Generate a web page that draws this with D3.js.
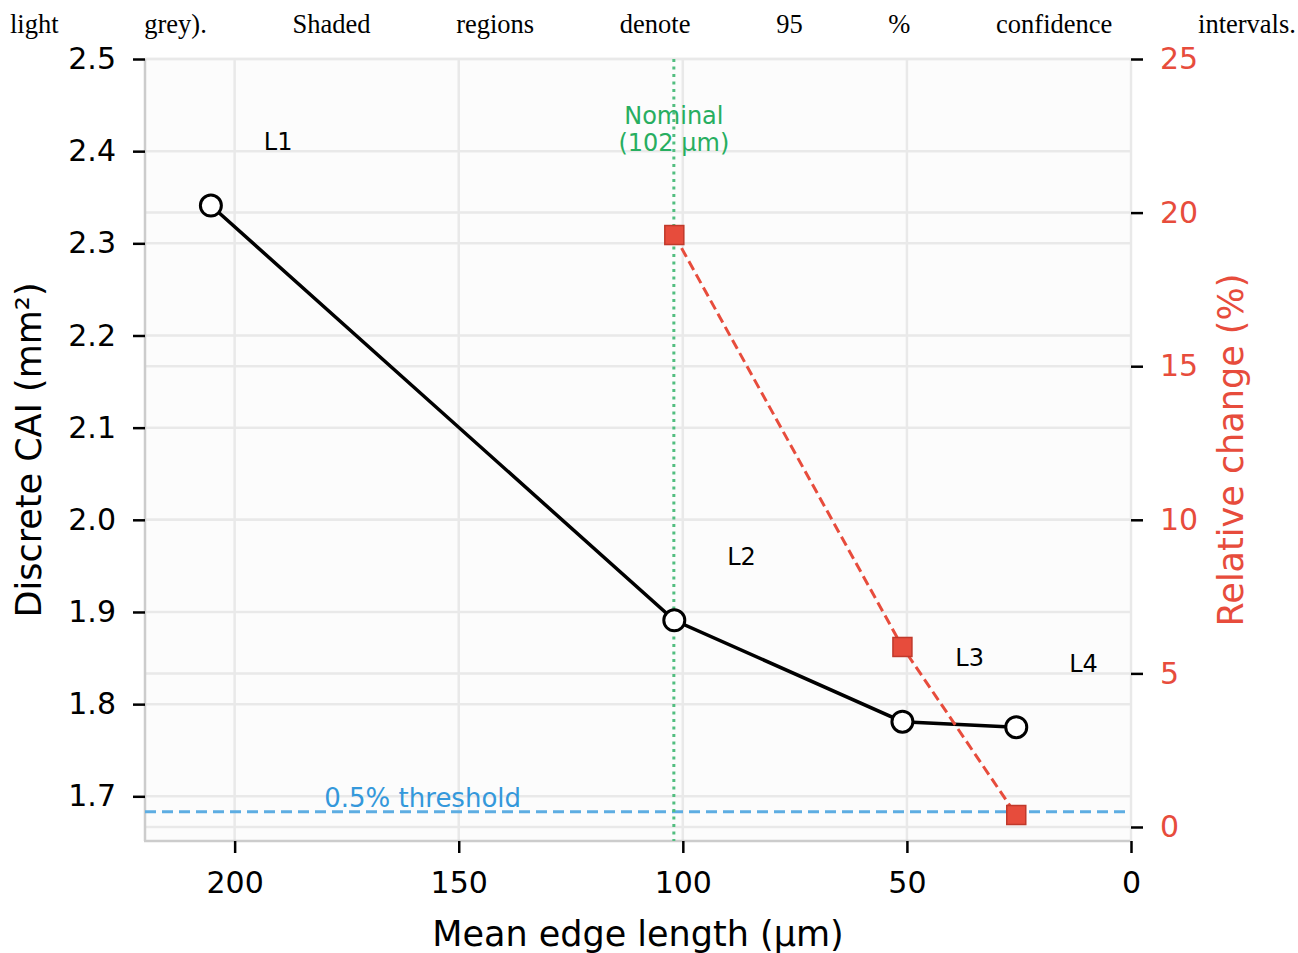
<!DOCTYPE html>
<html>
<head>
<meta charset="utf-8">
<script src="https://cdn.jsdelivr.net/npm/d3@7"></script>
<style>
  body { margin: 0; background: #fff; }
  #caption {
    position: absolute; left: 10px; top: 9px; width: 1286px;
    display: flex; justify-content: space-between;
    font-family: "Liberation Serif", "Times New Roman", serif; font-size: 26.5px; color: #000;
  }
  svg { position: absolute; left: 0; top: 0; }
</style>
</head>
<body>
<div id="vis-div"></div>
<div id="caption"></div>
<script>
// caption words shown above the chart
var captionWords = ["light", "grey).", "Shaded", "regions", "denote", "95", "%", "confidence", "intervals."];

// mesh levels
var levels = ["L1", "L2", "L3", "L4"];
var edgeLength = [205.3, 101.9, 51.0, 25.6];          // µm
var cai = [2.341, 1.891, 1.781, 1.775];               // mm²

// relative change between successive levels
var relEdge = [101.9, 51.0, 25.6];
var relChange = [19.27, 5.86, 0.39];                  // %

var nominalEdge = 102;
var thresholdPct = 0.5;

var xTicks = [200, 150, 100, 50, 0];
var yTicks = [1.7, 1.8, 1.9, 2.0, 2.1, 2.2, 2.3, 2.4, 2.5];
var rTicks = [0, 5, 10, 15, 20, 25];

d3.select("#caption").selectAll("span").data(captionWords).enter()
    .append("span").text(d => d);

var width = 1298, height = 953;
var pLeft = 145, pRight = 1131, pTop = 59, pBottom = 841;
var font = "DejaVu Sans, sans-serif";
var red = "#e74c3c", green = "#27ae60", blue = "#3498db";

var svg = d3.select("#vis-div").append("svg").attr("width", width).attr("height", height);

var x = d3.scaleLinear().domain([220, 0]).range([pLeft, pRight]);
var y = d3.scaleLinear().domain([1.6515, 2.5]).range([pBottom, pTop]);
var y2 = d3.scaleLinear().domain([-0.456, 25]).range([pBottom, pTop]);

// plot background
svg.append("rect")
    .attr("x", pLeft).attr("y", pTop)
    .attr("width", pRight - pLeft).attr("height", pBottom - pTop)
    .attr("fill", "#fcfcfc");

// grid
var grid = svg.append("g").attr("stroke", "#e9e9e9").attr("stroke-width", 2.5);
grid.selectAll(".gx").data(xTicks).enter().append("line")
    .attr("x1", d => x(d)).attr("x2", d => x(d)).attr("y1", pTop).attr("y2", pBottom);
grid.selectAll(".gy").data(yTicks).enter().append("line")
    .attr("x1", pLeft).attr("x2", pRight).attr("y1", d => y(d)).attr("y2", d => y(d));
grid.selectAll(".gr").data(rTicks).enter().append("line")
    .attr("x1", pLeft).attr("x2", pRight).attr("y1", d => y2(d)).attr("y2", d => y2(d));

// spines
svg.append("line").attr("x1", pLeft).attr("x2", pLeft).attr("y1", pTop).attr("y2", pBottom)
    .attr("stroke", "#cccccc").attr("stroke-width", 2.5);
svg.append("line").attr("x1", pLeft - 1).attr("x2", pRight + 1).attr("y1", pBottom).attr("y2", pBottom)
    .attr("stroke", "#cccccc").attr("stroke-width", 2.5);
svg.append("line").attr("x1", pRight).attr("x2", pRight).attr("y1", pTop).attr("y2", pBottom)
    .attr("stroke", "#e9e9e9").attr("stroke-width", 2);

// axes
var styleAxis = (g, color) => {
    g.select(".domain").remove();
    g.selectAll(".tick line").attr("stroke", "#000").attr("stroke-width", 2.5);
    g.selectAll(".tick text").attr("font-family", font).attr("font-size", 30).attr("fill", color);
};

svg.append("g").attr("transform", `translate(${pLeft},0)`)
    .call(d3.axisLeft(y).tickValues(yTicks).tickFormat(d3.format(".1f")).tickSize(12).tickPadding(17))
    .call(g => styleAxis(g, "#000"));

svg.append("g").attr("transform", `translate(${pRight},0)`)
    .call(d3.axisRight(y2).tickValues(rTicks).tickFormat(d3.format("d")).tickSize(12).tickPadding(17))
    .call(g => styleAxis(g, red));

svg.append("g").attr("transform", `translate(0,${pBottom})`)
    .call(d3.axisBottom(x).tickValues(xTicks).tickFormat(d3.format("d")).tickSize(12).tickPadding(19))
    .call(g => styleAxis(g, "#000"));

// axis titles
svg.append("text")
    .attr("transform", `translate(41,${(pTop + pBottom) / 2}) rotate(-90)`)
    .attr("text-anchor", "middle").attr("font-family", font).attr("font-size", 35)
    .text("Discrete CAI (mm²)");
svg.append("text")
    .attr("transform", `translate(1243,${(pTop + pBottom) / 2}) rotate(-90)`)
    .attr("text-anchor", "middle").attr("font-family", font).attr("font-size", 35)
    .attr("fill", red)
    .text("Relative change (%)");
svg.append("text")
    .attr("x", (pLeft + pRight) / 2).attr("y", 946)
    .attr("text-anchor", "middle").attr("font-family", font).attr("font-size", 35)
    .text("Mean edge length (µm)");

// threshold
svg.append("line")
    .attr("x1", pLeft).attr("x2", pRight)
    .attr("y1", y2(thresholdPct)).attr("y2", y2(thresholdPct))
    .attr("stroke", "#5dade2").attr("stroke-width", 3).attr("stroke-dasharray", "11,6");
svg.append("text")
    .attr("x", x(180)).attr("y", y2(thresholdPct) - 5)
    .attr("font-family", font).attr("font-size", 26).attr("fill", blue)
    .text(`${thresholdPct}% threshold`);

// nominal
svg.append("text")
    .attr("x", x(nominalEdge)).attr("y", 124)
    .attr("text-anchor", "middle").attr("font-family", font).attr("font-size", 24).attr("fill", green)
    .text("Nominal");
svg.append("text")
    .attr("x", x(nominalEdge)).attr("y", 151)
    .attr("text-anchor", "middle").attr("font-family", font).attr("font-size", 24).attr("fill", green)
    .text(`(${nominalEdge} µm)`);
svg.append("line")
    .attr("x1", x(nominalEdge)).attr("x2", x(nominalEdge)).attr("y1", pTop).attr("y2", pBottom)
    .attr("stroke", "#52be80").attr("stroke-width", 3)
    .attr("stroke-dasharray", "3,4.5");

// CAI line
var cpts = edgeLength.map((e, i) => [e, cai[i]]);
svg.append("path")
    .attr("d", d3.line().x(d => x(d[0])).y(d => y(d[1]))(cpts))
    .attr("fill", "none").attr("stroke", "#000").attr("stroke-width", 3.5);

// relative change line
var rpts = relEdge.map((e, i) => [e, relChange[i]]);
svg.append("path")
    .attr("d", d3.line().x(d => x(d[0])).y(d => y2(d[1]))(rpts))
    .attr("fill", "none").attr("stroke", red).attr("stroke-width", 3)
    .attr("stroke-dasharray", "10,5");

svg.append("g").selectAll("circle").data(cpts).enter().append("circle")
    .attr("cx", d => x(d[0])).attr("cy", d => y(d[1])).attr("r", 10.5)
    .attr("fill", "#fff").attr("stroke", "#000").attr("stroke-width", 3);

svg.append("g").selectAll("rect").data(rpts).enter().append("rect")
    .attr("x", d => x(d[0]) - 9.5).attr("y", d => y2(d[1]) - 9.5)
    .attr("width", 19).attr("height", 19)
    .attr("fill", red).attr("stroke", "#c0392b").attr("stroke-width", 1.5);

// level labels
svg.append("g").selectAll("text").data(levels).enter().append("text")
    .attr("x", (d, i) => x(edgeLength[i] - 15))
    .attr("y", (d, i) => y(cai[i] + 0.07) + 9)
    .attr("text-anchor", "middle").attr("font-family", font).attr("font-size", 24)
    .text(d => d);
</script>
</body>
</html>
